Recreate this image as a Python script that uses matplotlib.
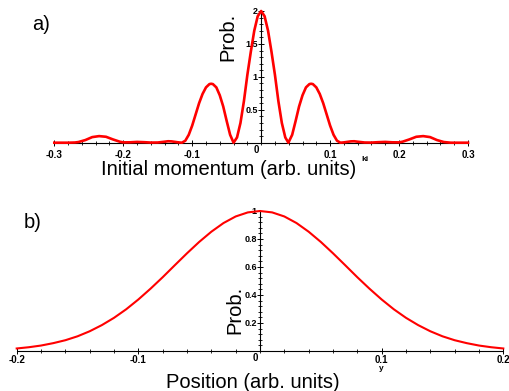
import matplotlib
matplotlib.use("Agg")
import matplotlib.pyplot as plt
from matplotlib.ticker import MultipleLocator, FixedLocator, FixedFormatter
from matplotlib.font_manager import FontProperties
from matplotlib.transforms import ScaledTranslation

# ---- data -------------------------------------------------------------
# a) momentum distribution
k_vals = [-0.300, -0.280, -0.270, -0.265, -0.255, -0.245, -0.235, -0.225, -0.215,
          -0.205, -0.200, -0.190, -0.180, -0.170, -0.160, -0.150, -0.140, -0.135,
          -0.130, -0.120, -0.115, -0.110, -0.105, -0.100, -0.095, -0.090, -0.085,
          -0.080, -0.075, -0.0725, -0.070, -0.065, -0.060, -0.055, -0.050, -0.045,
          -0.040, -0.035, -0.030, -0.025, -0.020, -0.015, -0.010, -0.005, 0.000,
          0.005, 0.010, 0.015, 0.020, 0.025, 0.030, 0.035, 0.0395, 0.045, 0.050,
          0.055, 0.060, 0.065, 0.070, 0.0725, 0.075, 0.080, 0.085, 0.090, 0.095,
          0.100, 0.105, 0.110, 0.115, 0.120, 0.130, 0.135, 0.140, 0.150, 0.160,
          0.170, 0.180, 0.190, 0.200, 0.205, 0.215, 0.225, 0.235, 0.245, 0.255,
          0.265, 0.275, 0.300]
p_k = [0.000, 0.000, 0.003, 0.010, 0.040, 0.085, 0.100, 0.090, 0.050,
       0.015, 0.005, 0.006, 0.012, 0.008, 0.002, 0.003, 0.015, 0.022,
       0.020, 0.005, 0.000, 0.030, 0.120, 0.260, 0.430, 0.600, 0.740,
       0.840, 0.890, 0.895, 0.890, 0.840, 0.720, 0.550, 0.330, 0.120,
       0.000, 0.080, 0.300, 0.630, 1.030, 1.380, 1.700, 1.920, 2.000,
       1.920, 1.700, 1.380, 1.030, 0.630, 0.300, 0.080, 0.000, 0.120, 0.330,
       0.550, 0.720, 0.840, 0.890, 0.895, 0.890, 0.840, 0.740, 0.600, 0.430,
       0.260, 0.120, 0.030, 0.000, 0.005, 0.020, 0.022, 0.015, 0.003, 0.002,
       0.008, 0.012, 0.006, 0.005, 0.015, 0.050, 0.090, 0.100, 0.085, 0.040,
       0.010, 0.000, 0.000]

# b) position distribution
y_vals = [-0.20, -0.19, -0.18, -0.17, -0.16, -0.15, -0.14, -0.13, -0.12, -0.11,
          -0.10, -0.09, -0.08, -0.07, -0.06, -0.05, -0.04, -0.03, -0.02, -0.01,
          0.00, 0.01, 0.02, 0.03, 0.04, 0.05, 0.06, 0.07, 0.08, 0.09,
          0.10, 0.11, 0.12, 0.13, 0.14, 0.15, 0.16, 0.17, 0.18, 0.19, 0.20]
p_y = [0.018, 0.027, 0.039, 0.056, 0.077, 0.105, 0.141, 0.185, 0.237, 0.298,
       0.368, 0.445, 0.527, 0.613, 0.698, 0.779, 0.852, 0.914, 0.961, 0.990,
       1.000, 0.990, 0.961, 0.914, 0.852, 0.779, 0.698, 0.613, 0.527, 0.445,
       0.368, 0.298, 0.237, 0.185, 0.141, 0.105, 0.077, 0.056, 0.039, 0.027, 0.018]

k_ticks = [-0.3, -0.2, -0.1, 0.1, 0.2, 0.3]
k_tick_labels = ["-0.3", "-0.2", "-0.1", "0.1", "0.2", "0.3"]
pk_ticks = [0.5, 1.0, 1.5, 2.0]
pk_tick_labels = ["0.5", "1", "1.5", "2"]

y_ticks = [-0.2, -0.1, 0.1, 0.2]
y_tick_labels = ["-0.2", "-0.1", "0.1", "0.2"]
py_ticks = [0.2, 0.4, 0.6, 0.8, 1.0]
py_tick_labels = ["0.2", "0.4", "0.6", "0.8", "1"]

# ---- figure -----------------------------------------------------------
W, H = 509, 391
fig = plt.figure(figsize=(W / 100, H / 100), dpi=100)
fig.patch.set_facecolor("white")

TXT = "Liberation Sans"
xtick_font = dict(family=TXT, weight="bold", size=7)
ytick_font = dict(family=TXT, weight="bold", size=6.5)


def px_axes(left, right, bottom, top):
    return fig.add_axes([left / W, 1 - bottom / H, (right - left) / W, (bottom - top) / H])


def style_axes(ax, xt, xtl, yt, ytl, xminor, yminor, ytop, xpad, ypad):
    ax.set_facecolor("none")
    for s in ("top", "right"):
        ax.spines[s].set_visible(False)
    ax.spines["left"].set_position(("data", 0))
    ax.spines["left"].set_bounds(0, ytop)
    for s in ("left", "bottom"):
        ax.spines[s].set_linewidth(0.8)
        ax.spines[s].set_zorder(1)
    ax.xaxis.set_major_locator(FixedLocator(xt))
    ax.xaxis.set_major_formatter(FixedFormatter(xtl))
    ax.yaxis.set_major_locator(FixedLocator(yt))
    ax.yaxis.set_major_formatter(FixedFormatter(ytl))
    ax.xaxis.set_minor_locator(MultipleLocator(xminor))
    ax.yaxis.set_minor_locator(MultipleLocator(yminor))
    ax.tick_params(which="major", direction="inout", length=4, width=0.7)
    ax.tick_params(which="minor", direction="inout", length=2.5, width=0.6)
    ax.tick_params(axis="x", which="major", pad=xpad)
    ax.tick_params(axis="y", which="major", pad=ypad)
    for lab in ax.get_xticklabels():
        lab.set_fontproperties(FontProperties(**xtick_font))
    for lab in ax.get_yticklabels():
        lab.set_fontproperties(FontProperties(**ytick_font))
    ax.text(0, 0, "0", fontdict=xtick_font, ha="right", va="top",
            transform=ax.transData + ScaledTranslation(-2 / 100, -2 / 100,
                                                       fig.dpi_scale_trans))


# a) ------------------------------------------------------------------
ax1 = px_axes(54.3, 468.0, 142.7, 7.7)
ax1.set_xlim(-0.3, 0.3)
ax1.set_ylim(0, 2.05)
ax1.plot(k_vals, p_k, color="#ff0000", lw=1.9, zorder=3, clip_on=False,
         solid_joinstyle="round")
style_axes(ax1, k_ticks, k_tick_labels, pk_ticks, pk_tick_labels,
           0.02, 0.1, 2.0, 3.2, 0.3)

# b) ------------------------------------------------------------------
ax2 = px_axes(16.7, 503.3, 351.0, 206.8)
ax2.set_xlim(-0.2, 0.2)
ax2.set_ylim(0, 1.03)
ax2.plot(y_vals, p_y, color="#ff0000", lw=1.5, zorder=3, clip_on=False,
         solid_joinstyle="round")
style_axes(ax2, y_ticks, y_tick_labels, py_ticks, py_tick_labels,
           0.02, 0.04, 1.0, 0.8, 0.3)

# ---- labels -----------------------------------------------------------
lab_font = dict(family=TXT, size=14.5)


def fig_text(x, y, s, **kw):
    fig.text(x / W, 1 - y / H, s, **kw)


fig_text(41, 25, "a)", ha="center", va="center", **lab_font)
fig_text(32.5, 222.5, "b)", ha="center", va="center", **lab_font)
fig_text(229, 170, "Initial momentum (arb. units)", ha="center", va="center", **lab_font)
fig_text(253, 382, "Position (arb. units)", ha="center", va="center", **lab_font)
fig_text(227.5, 37, "Prob.", ha="center", va="center", rotation=90, **lab_font)
fig_text(235, 310, "Prob.", ha="center", va="center", rotation=90, **lab_font)
fig_text(364.5, 159.5, "ki", ha="center", va="center", family=TXT, weight="bold", size=6)
fig_text(381.7, 368, "y", ha="center", va="center", family=TXT, weight="bold", size=6)

fig.savefig("out.png", dpi=100, facecolor="white")
